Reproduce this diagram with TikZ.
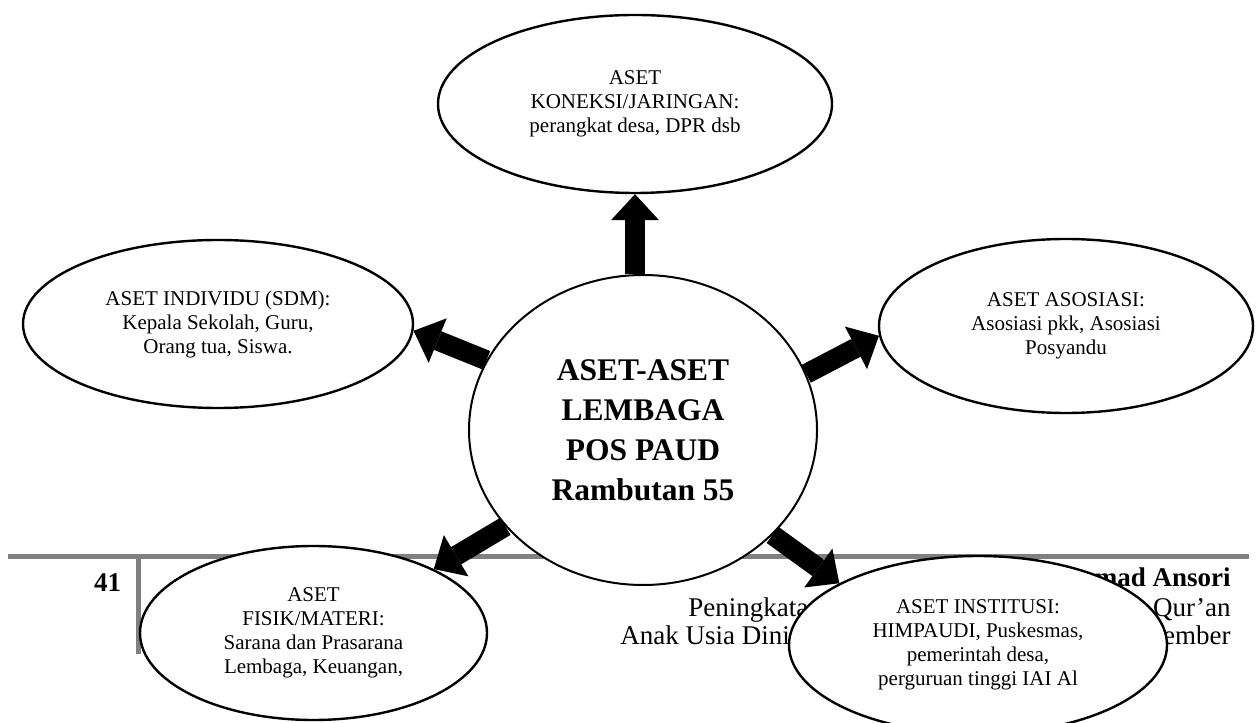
\documentclass[tikz,border=0pt]{standalone}
\usepackage{fontspec}
\setmainfont{Liberation Serif}
\usetikzlibrary{shapes.geometric,arrows.meta}

\tikzset{
  aset/.style={ellipse, draw, line width=1.2pt, fill=white, inner sep=0pt,
    align=center, font=\fontsize{10.5}{12}\selectfont},
  panah/.style={line width=10pt, -{Triangle[length=13pt,width=24pt,line width=0pt]}},
  garis/.style={draw=gray, line width=2.5pt},
  kaki/.style={inner sep=0pt, font=\fontsize{13.5}{15}\selectfont}
}

\begin{document}
\begin{tikzpicture}[node distance=163pt, x=1pt, y=1pt]
  \useasboundingbox (0,0) rectangle (628,361);
  \clip (0,0) rectangle (628,361);
  % kaki halaman
  \coordinate (kiri) at (4,82.5);
  \coordinate (kanan) at (624.5,82.5);
  \coordinate (bawah) at (69,34);
  \draw[garis] (kiri) -- (kanan);
  \draw[garis] (bawah |- kiri) -- (bawah);
  \node (hal) [kaki, font=\bfseries\fontsize{13.5}{16}\selectfont] at (53.75,69.75) {41};
  \node (judul1) [kaki, anchor=base west] at (344,52.5) {Peningkata};
  \node (judul2) [kaki, anchor=base west] at (310,38.5) {Anak Usia Dini};
  \node (penulis) [kaki, anchor=base east, font=\bfseries\fontsize{13.5}{16}\selectfont] at (615.5,67.5) {mad Ansori};
  \node (jurnal1) [kaki, anchor=base east] at (615.5,52.5) {-Qur’an};
  \node (jurnal2) [kaki, anchor=base east] at (615.5,38.5) {ember};

  % aset
  \node (pusat) [aset, line width=1pt, minimum width=174pt, minimum height=155pt,
    font=\bfseries\fontsize{15.75}{20}\selectfont] at (321.5,146)
    {ASET-ASET\\LEMBAGA\\POS PAUD\\Rambutan 55};
  \node (koneksi) [aset, minimum width=197pt, minimum height=89pt, above of=pusat, xshift=-4pt]
    {ASET\\KONEKSI/JARINGAN:\\perangkat desa, DPR dsb};
  \node (individu) [aset, minimum width=195pt, minimum height=84pt] at (109,199)
    {ASET INDIVIDU (SDM):\\Kepala Sekolah, Guru,\\Orang tua, Siswa.};
  \node (asosiasi) [aset, minimum width=187pt, minimum height=87pt] at (533,198)
    {ASET ASOSIASI:\\Asosiasi pkk, Asosiasi\\Posyandu};
  \node (fisik) [aset, minimum width=173.5pt, minimum height=87pt] at (156.75,44.5)
    {ASET\\FISIK/MATERI:\\Sarana dan Prasarana\\Lembaga, Keuangan,};
  \node (institusi) [aset, minimum width=189pt, minimum height=89pt] at (489,38.5)
    {ASET INSTITUSI:\\HIMPAUDI, Puskesmas,\\pemerintah desa,\\perguruan tinggi IAI Al};

  \draw[panah] (koneksi.south |- pusat.north) -- (koneksi.south);
  \draw[panah] (pusat.156) -- (individu.-2);
  \draw[panah] (pusat.19) -- (asosiasi.183);
  \draw[panah] (pusat.215) -- (fisik.28);
  \draw[panah] (pusat.-39) -- (institusi.156);
\end{tikzpicture}
\end{document}
